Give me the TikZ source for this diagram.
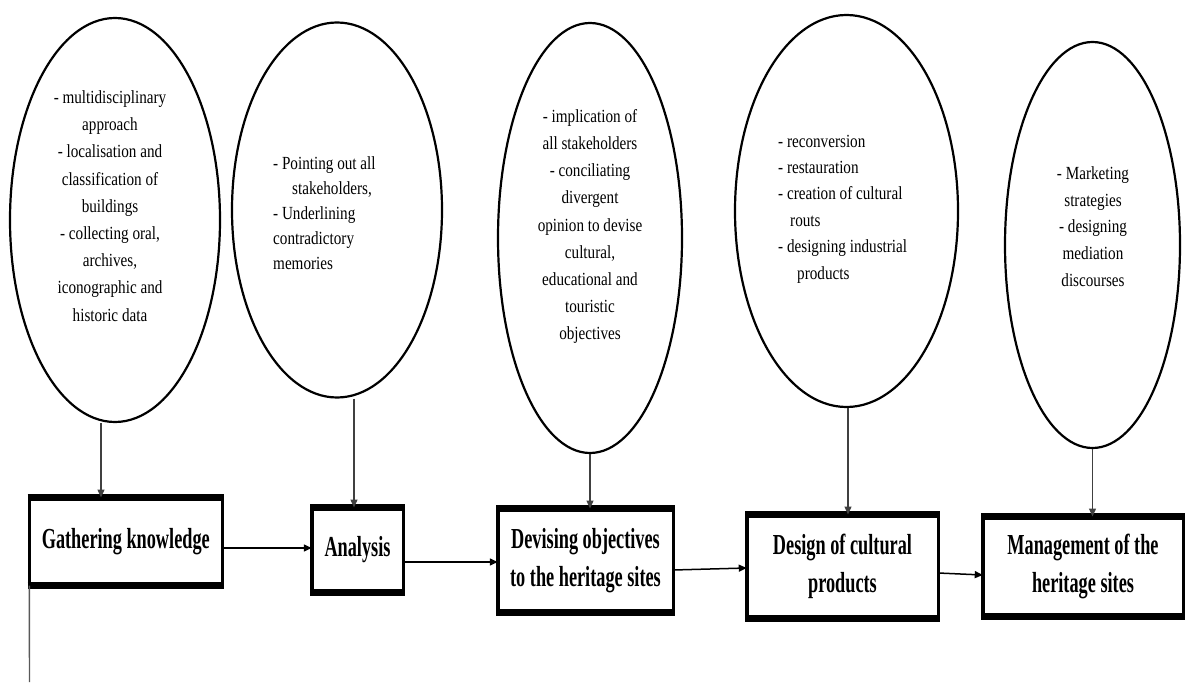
\documentclass[tikz,border=0pt]{standalone}
\usepackage{fontspec}
\setmainfont{Liberation Serif}
\newfontfamily\ellfont{Liberation Serif}[FakeStretch=0.82]
\newfontfamily\boxfont{Liberation Serif}[FakeStretch=0.63]
\usetikzlibrary{arrows.meta,shapes.geometric}

% heavy top and bottom rims of a stage box
\newcommand\rimlines[1]{%
  \draw[line width=7pt]
    ([xshift=-1.75pt]#1.north west) -- ([xshift=1.75pt]#1.north east)
    ([xshift=-1.75pt]#1.south west) -- ([xshift=1.75pt]#1.south east);}

\begin{document}
\begin{tikzpicture}[x=1pt,y=-1pt,
  bubble/.style={draw, ellipse, line width=2.2pt, inner sep=0pt},
  bubtext/.style={inner sep=0pt},
  stage/.style={draw, rectangle, line width=3.5pt, inner sep=0pt, outer sep=0pt,
    align=center, font=\boxfont\bfseries\fontsize{29}{38}\selectfont},
  feed/.style={draw=black!75, line width=1.3pt, -{Triangle[length=8pt,width=7pt]}},
  flow/.style={draw=black, line width=1.5pt, -{Triangle[length=8pt,width=7pt]}},
]
\useasboundingbox (0,0) rectangle (1188,684);

% ellipses with the activities of each stage
\node[bubble, minimum width=210pt, minimum height=404pt] (e1) at (115,220) {};
\node[bubble, minimum width=210pt, minimum height=375pt] (e2) at (337,210) {};
\node[bubble, minimum width=184pt, minimum height=430pt] (e3) at (590,238) {};
\node[bubble, minimum width=223pt, minimum height=392pt] (e4) at (846.5,211) {};
\node[bubble, minimum width=175pt, minimum height=406pt] (e5) at (1092.5,245) {};

\node[bubtext, align=center, font=\ellfont\fontsize{18.5}{27.2}\selectfont] (t1) at (110,206)
  {- multidisciplinary\\approach\\- localisation and\\classification of\\buildings\\- collecting oral,\\archives,\\iconographic and\\historic data};
\node[bubtext, align=left, anchor=west, font=\ellfont\fontsize{18.5}{25}\selectfont] (t2) at (273,213)
  {- Pointing out all\\\hspace*{19pt}stakeholders,\\- Underlining\\contradictory\\memories};
\node[bubtext, align=center, font=\ellfont\fontsize{18.5}{27.1}\selectfont] (t3) at (590,226.5)
  {- implication of\\all stakeholders\\- conciliating\\divergent\\opinion to devise\\cultural,\\educational and\\touristic\\objectives};
\node[bubtext, align=left, anchor=west, font=\ellfont\fontsize{18.5}{26.4}\selectfont] (t4) at (778,209)
  {- reconversion\\- restauration\\- creation of cultural\\\hspace*{12pt}routs\\- designing industrial\\\hspace*{19pt}products};
\node[bubtext, align=center, font=\ellfont\fontsize{18.5}{26.8}\selectfont] (t5) at (1093,226.5)
  {- Marketing\\strategies\\- designing\\mediation\\discourses};

% stages of the process
\node[stage, minimum width=193pt, minimum height=88pt] (b1) at (125.8,541.5) {Gathering knowledge};
\node[stage, minimum width=91.5pt, minimum height=85pt] (b2) at (357.5,550) {Analysis};
\node[stage, minimum width=175.5pt, minimum height=104pt] (b3) at (585.5,560.5) {Devising objectives\\to the heritage sites};
\node[stage, minimum width=191.5pt, minimum height=104pt] (b4) at (842.5,566.5) {Design of cultural\\products};
\node[stage, minimum width=200.5pt, minimum height=100pt] (b5) at (1083,566.5) {Management of the\\heritage sites};
\foreach \b in {b1,b2,b3,b4,b5}{\rimlines{\b}}

% activities feeding each stage
\draw[feed] ([xshift=-14pt]e1.south) -- ([xshift=-14pt]e1.south |- b1.north);
\draw[feed] ([xshift=17pt]e2.south) -- ([xshift=17pt]e2.south |- b2.north);
\draw[feed] (e3.south) -- (e3.south |- b3.north);
\draw[feed] ([xshift=1.5pt]e4.south) -- ([xshift=1.5pt]e4.south |- b4.north);
\draw[feed] (e5.south) -- (e5.south |- b5.north);

% sequence of stages
\draw[flow] ([yshift=-6.5pt]b1.east) -- ([yshift=-6.5pt]b1.east -| b2.west);
\draw[flow] ([yshift=-12pt]b2.east) -- ([yshift=-12pt]b2.east -| b3.west);
\draw[flow] ([yshift=-9.5pt]b3.east) -- ([yshift=-1.5pt]b4.west);
\draw[flow] ([yshift=-6.5pt]b4.east) -- ([yshift=-8.5pt]b5.west);

% line leaving the first stage
\coordinate (tail) at (29.5,682);
\draw[draw=black!65, line width=1.4pt] (b1.south west) -- (tail);
\end{tikzpicture}
\end{document}
